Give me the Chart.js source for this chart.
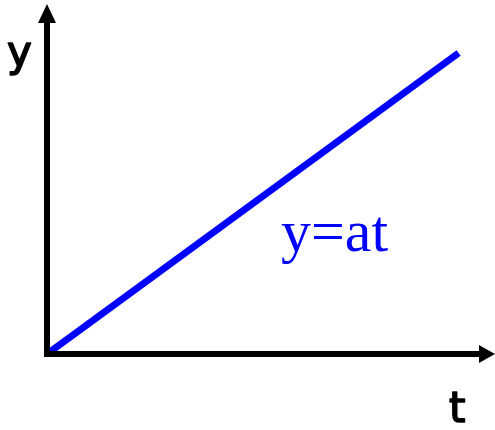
<!DOCTYPE html>
<html>
<head>
<meta charset="utf-8">
<script src="https://cdn.jsdelivr.net/npm/chart.js@4"></script>
<style>
  html, body { margin: 0; padding: 0; background: #fff; }
  #c { display: block; }
</style>
</head>
<body>
<canvas id="c" width="495" height="430"></canvas>
<script>
// y = a t, a straight line from the origin
const tValues = [0, 9.25];
const yValues = [0, 8.6];
const xTitle = "t";
const yTitle = "y";
const lineLabel = "y=at";

const axesPlugin = {
    id: "arrowAxes",
    afterDraw(chart) {
        const ctx = chart.ctx;
        const xs = chart.scales.x;
        const ys = chart.scales.y;
        const ox = xs.getPixelForValue(0);
        const oy = ys.getPixelForValue(0);

        ctx.save();
        ctx.strokeStyle = "#000";
        ctx.fillStyle = "#000";
        ctx.lineWidth = 6;

        // vertical axis
        ctx.beginPath();
        ctx.moveTo(ox, oy + 3);
        ctx.lineTo(ox, 20);
        ctx.stroke();
        ctx.beginPath();
        ctx.moveTo(ox, 4);
        ctx.lineTo(ox - 9, 23);
        ctx.lineTo(ox + 9, 23);
        ctx.closePath();
        ctx.fill();

        // horizontal axis
        ctx.beginPath();
        ctx.moveTo(ox - 3, oy);
        ctx.lineTo(482, oy);
        ctx.stroke();
        ctx.beginPath();
        ctx.moveTo(495, oy);
        ctx.lineTo(479, oy - 9);
        ctx.lineTo(479, oy + 9);
        ctx.closePath();
        ctx.fill();

        // axis names, a bit heavier than regular weight
        ctx.font = "42px 'DejaVu Sans'";
        ctx.textBaseline = "alphabetic";
        ctx.lineWidth = 1.6;
        ctx.lineJoin = "round";
        ctx.fillText(yTitle, 7, 66);
        ctx.strokeText(yTitle, 7, 66);
        ctx.fillText(xTitle, 449, 422);
        ctx.strokeText(xTitle, 449, 422);

        // line label
        ctx.fillStyle = "#0000ff";
        ctx.font = "60px 'Liberation Serif'";
        ctx.fillText(lineLabel, 281, 251);
        ctx.restore();
    },
};

new Chart(document.getElementById("c"), {
    type: "line",
    data: {
        datasets: [
            {
                data: tValues.map((t, i) => ({ x: t, y: yValues[i] })),
                borderColor: "#0000ff",
                borderWidth: 7,
                borderCapStyle: "butt",
                pointRadius: 0,
                fill: false,
                tension: 0,
            },
        ],
    },
    options: {
        responsive: false,
        animation: false,
        layout: { padding: { left: 47, right: 3, top: 4, bottom: 76 } },
        plugins: {
            legend: { display: false },
            tooltip: { enabled: false },
        },
        scales: {
            x: { type: "linear", min: 0, max: 10, display: false },
            y: { type: "linear", min: 0, max: 10, display: false },
        },
    },
    plugins: [axesPlugin],
});
</script>
</body>
</html>
